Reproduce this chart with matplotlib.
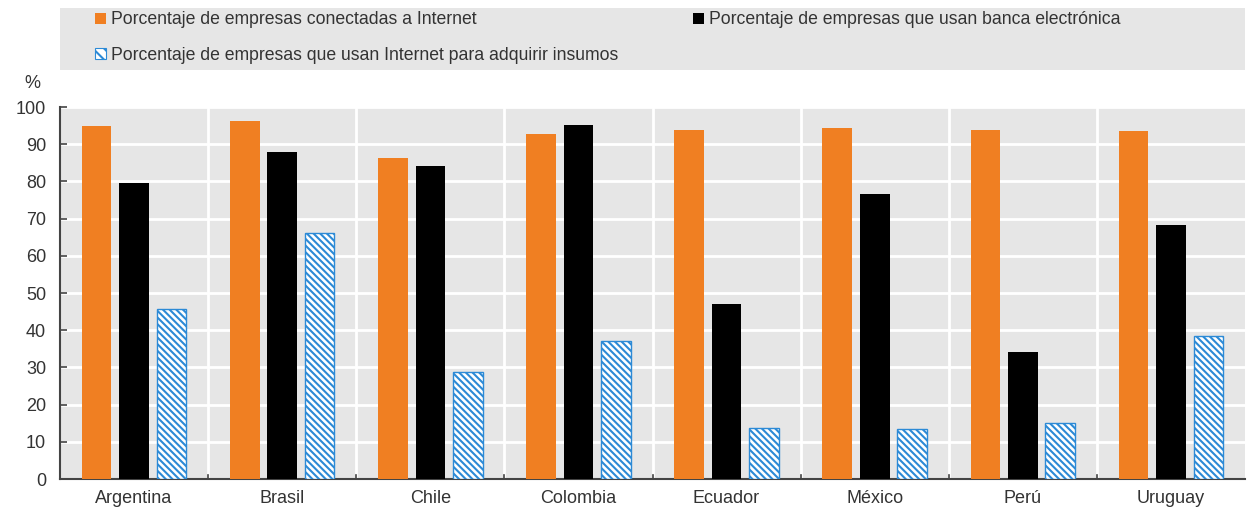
import matplotlib
matplotlib.use("Agg")
import matplotlib.pyplot as plt
import matplotlib.patches as mpatches
from matplotlib import font_manager
import numpy as np

countries = ["Argentina", "Brasil", "Chile", "Colombia", "Ecuador", "México", "Perú", "Uruguay"]
internet = [94.9, 96.2, 86.3, 92.7, 93.8, 94.4, 93.8, 93.5]
banca = [79.6, 87.9, 84.1, 95.2, 47.0, 76.6, 34.1, 68.3]
insumos = [45.7, 66.1, 28.8, 37.1, 13.7, 13.4, 15.1, 38.4]
series_labels = [
    "Porcentaje de empresas conectadas a Internet",
    "Porcentaje de empresas que usan banca electrónica",
    "Porcentaje de empresas que usan Internet para adquirir insumos",
]
yticks = [0, 10, 20, 30, 40, 50, 60, 70, 80, 90, 100]

names = {f.name for f in font_manager.fontManager.ttflist}
fam = "Liberation Sans Narrow" if "Liberation Sans Narrow" in names else "Liberation Sans"
plt.rcParams["font.family"] = [fam, "DejaVu Sans"]
plt.rcParams["hatch.linewidth"] = 1.5
plt.rcParams["hatch.color"] = "#2c8ad6"

ORANGE = "#f07f22"
BLUE = "#2c8ad6"
BG = "#e6e6e6"
TXT = "#333333"
HATCH = "\\\\\\\\\\"

fig = plt.figure(figsize=(12.51, 5.12), dpi=100)
ax = fig.add_axes([60/1251, 1-479/512, (1245-60)/1251, (479-107)/512])
ax.set_facecolor(BG)

x = np.arange(len(countries))
w = 0.2
off = 0.253
ax.bar(x - off, internet, w, color=ORANGE, zorder=3)
ax.bar(x, banca, w, color="black", zorder=3)
ax.bar(x + off, insumos, w, color="white", edgecolor=BLUE, hatch=HATCH, linewidth=1.0, zorder=3)

ax.set_xlim(-0.5, len(countries) - 0.5)
ax.set_ylim(0, 100)
ax.set_yticks(yticks)
ax.set_yticklabels([str(v) for v in yticks], fontsize=13, color=TXT)
ax.set_xticks(x)
ax.set_xticklabels(countries, fontsize=13, color=TXT)
ax.tick_params(axis="x", length=0, pad=8)
ax.tick_params(axis="y", direction="in", length=5, width=1.2, color="#444444", pad=10)

for v in yticks[1:]:
    ax.axhline(v, color="white", lw=2, zorder=1)
for b in np.arange(0.5, len(countries) - 0.5, 1):
    ax.axvline(b, color="white", lw=2, zorder=1)
    ax.plot([b, b], [0, 1.0], color="#444444", lw=1.2, zorder=4, clip_on=False)

for s in ["top", "right"]:
    ax.spines[s].set_visible(False)
ax.spines["left"].set_color("#444444")
ax.spines["left"].set_linewidth(1.5)
ax.spines["bottom"].set_color("#444444")
ax.spines["bottom"].set_linewidth(1.5)

fig.text(32/1251, 1-83/512, "%", fontsize=13, color=TXT, ha="center", va="center")

# legend box
fig.add_artist(mpatches.Rectangle((60/1251, 1-70/512), (1245-60)/1251, 62/512,
                                  transform=fig.transFigure, facecolor=BG, edgecolor="none", zorder=0))
handles = [
    mpatches.Patch(facecolor=ORANGE, edgecolor="none"),
    mpatches.Patch(facecolor="black", edgecolor="none"),
    mpatches.Patch(facecolor="white", edgecolor=BLUE, hatch="\\\\\\", linewidth=0.8),
]
positions = [(95, 20), (693, 20), (95, 55)]
for h, lab, (px, py) in zip(handles, series_labels, positions):
    lg = fig.legend([h], [lab], loc="center left", bbox_to_anchor=(px/1251, 1-py/512),
                    frameon=False, fontsize=12.7, handlelength=0.6, handleheight=0.6,
                    handletextpad=0.3, borderaxespad=0, borderpad=0)
    for t in lg.get_texts():
        t.set_color(TXT)

fig.savefig("out.png", dpi=100)
